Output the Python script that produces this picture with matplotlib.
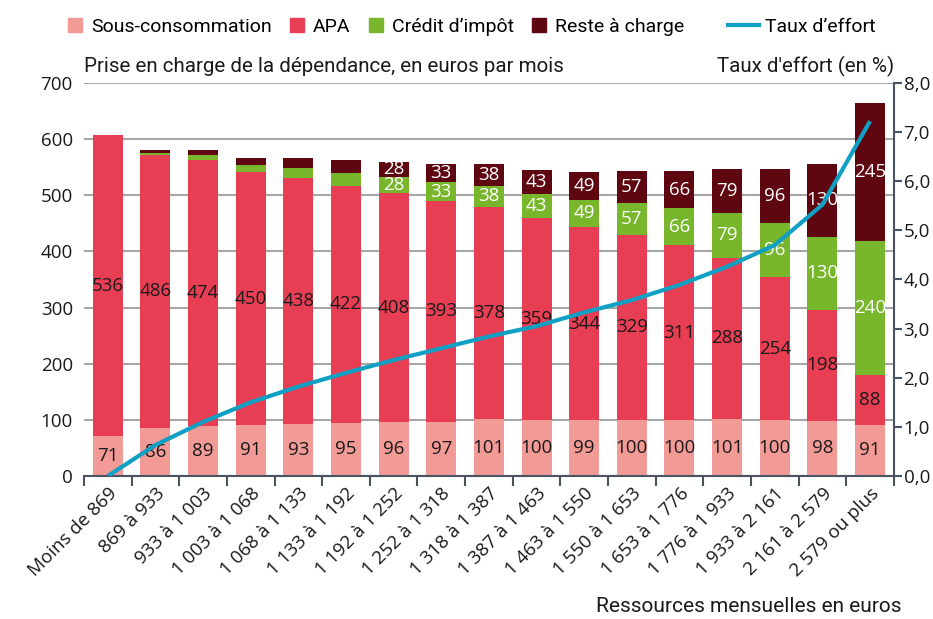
import matplotlib
matplotlib.use("Agg")
import matplotlib.pyplot as plt
import numpy as np
from matplotlib.patches import Patch
from matplotlib.lines import Line2D

categories = ["Moins de 869", "869 à 933", "933 à 1 003", "1 003 à 1 068", "1 068 à 1 133",
              "1 133 à 1 192", "1 192 à 1 252", "1 252 à 1 318", "1 318 à 1 387",
              "1 387 à 1 463", "1 463 à 1 550", "1 550 à 1 653", "1 653 à 1 776",
              "1 776 à 1 933", "1 933 à 2 161", "2 161 à 2 579", "2 579 ou plus"]
sous_conso = [71, 86, 89, 91, 93, 95, 96, 97, 101, 100, 99, 100, 100, 101, 100, 98, 91]
apa = [536, 486, 474, 450, 438, 422, 408, 393, 378, 359, 344, 329, 311, 288, 254, 198, 88]
credit = [0, 3, 8, 13, 18, 23, 28, 33, 38, 43, 49, 57, 66, 79, 96, 130, 240]
reste = [0, 5, 9, 13, 18, 23, 28, 33, 38, 43, 49, 57, 66, 79, 96, 130, 245]
taux = [0.0, 0.63, 1.1, 1.5, 1.82, 2.1, 2.36, 2.6, 2.84, 3.05, 3.33, 3.58, 3.89, 4.26, 4.7, 5.52, 7.22]
left_ticks = [0, 100, 200, 300, 400, 500, 600, 700]
right_ticks = [0, 1, 2, 3, 4, 5, 6, 7, 8]

C_SOUS = "#F29A96"
C_APA = "#E83E54"
C_CRED = "#78B72B"
C_RESTE = "#5F0710"
C_LINE = "#0FA0C3"
AXC = "#4B5261"
TXT = "#1A1A1A"

plt.rcParams['font.family'] = ['Open Sans', 'DejaVu Sans']
NARROW = ['Roboto', 'DejaVu Sans']

fig = plt.figure(figsize=(9.33, 6.19), dpi=100)
ax = fig.add_axes([0.090, 0.231, 0.868, 0.635])
x = np.arange(len(categories))
w = 0.63

sous = np.array(sous_conso)
a = np.array(apa)
c = np.array(credit)
r = np.array(reste)

ax.bar(x, sous, w, color=C_SOUS, zorder=2)
ax.bar(x, a, w, bottom=sous, color=C_APA, zorder=2)
ax.bar(x, c, w, bottom=sous + a, color=C_CRED, zorder=2)
ax.bar(x, r, w, bottom=sous + a + c, color=C_RESTE, zorder=2)

fs = 13.5
for i in range(len(x)):
    ax.text(x[i], sous[i] / 2, str(sous[i]), ha='center', va='center', fontsize=fs, color=TXT, zorder=5)
    ax.text(x[i], sous[i] + a[i] / 2, str(a[i]), ha='center', va='center', fontsize=fs, color=TXT, zorder=5)
    if c[i] >= 25:
        ax.text(x[i], sous[i] + a[i] + c[i] / 2, str(c[i]), ha='center', va='center', fontsize=fs, color='white', zorder=5)
    if r[i] >= 25:
        ax.text(x[i], sous[i] + a[i] + c[i] + r[i] / 2, str(r[i]), ha='center', va='center', fontsize=fs, color='white', zorder=5)

ax.set_xlim(-0.5, len(x) - 0.5)
ax.set_ylim(0, 700)
ax.set_yticks(left_ticks)
ax.yaxis.grid(True, color="#A6A6A6", linewidth=1.5, zorder=0)
ax.set_axisbelow(True)
ax.tick_params(axis='y', length=0, labelsize=13.5, colors=TXT, pad=8)
for s in ['left', 'top', 'right']:
    ax.spines[s].set_visible(False)
ax.spines['bottom'].set_color(AXC)
ax.spines['bottom'].set_linewidth(1.5)
ax.set_xticks(x)
ax.set_xticklabels(categories, rotation=45, ha='right', rotation_mode='anchor', fontsize=13.5, color=TXT)
ax.tick_params(axis='x', which='major', length=0, pad=6)
ax.set_xticks(np.arange(-0.5, len(x), 1.0), minor=True)
ax.tick_params(axis='x', which='minor', length=7, width=1.5, color=AXC)

ax2 = ax.twinx()
ax2.set_ylim(0, 8)
ax2.set_yticks(right_ticks)
ax2.set_yticklabels([f"{v:.1f}".replace('.', ',') for v in right_ticks])
for s in ['left', 'top', 'bottom']:
    ax2.spines[s].set_visible(False)
ax2.spines['right'].set_color(AXC)
ax2.spines['right'].set_linewidth(1.5)
ax2.tick_params(axis='y', length=6, width=1.5, color=AXC, labelsize=13.5, labelcolor=TXT, pad=1)
ax2.plot(x, taux, color=C_LINE, linewidth=3, zorder=4, solid_capstyle='butt')

fig.text(0.090, 0.893, "Prise en charge de la dépendance, en euros par mois", fontsize=14.8,
         family=NARROW, color=TXT, ha='left', va='center')
fig.text(0.958, 0.893, "Taux d'effort (en %)", fontsize=14.8, family=NARROW, color=TXT,
         ha='right', va='center')
fig.text(0.966, 0.005, "Ressources mensuelles en euros", fontsize=15, family=NARROW,
         color=TXT, ha='right', va='bottom')

handles = [Patch(color=C_SOUS), Patch(color=C_APA), Patch(color=C_CRED), Patch(color=C_RESTE),
           Line2D([0], [0], color=C_LINE, linewidth=3)]
labels = ["Sous-consommation", "APA", "Crédit d’impôt", "Reste à charge", "Taux d’effort"]
leg = fig.legend(handles, labels[:4], loc='center left', bbox_to_anchor=(0.073, 0.957), ncol=4,
                 frameon=False, prop={'family': NARROW, 'size': 14}, handlelength=0.72,
                 handleheight=0.72, handletextpad=0.45, columnspacing=0.95, borderpad=0,
                 borderaxespad=0)
leg2 = fig.legend(handles[4:], labels[4:], loc='center left', bbox_to_anchor=(0.780, 0.957),
                  frameon=False, prop={'family': NARROW, 'size': 14}, handlelength=1.6,
                  handletextpad=0.3, borderpad=0, borderaxespad=0)

fig.savefig("out.png", dpi=100)
